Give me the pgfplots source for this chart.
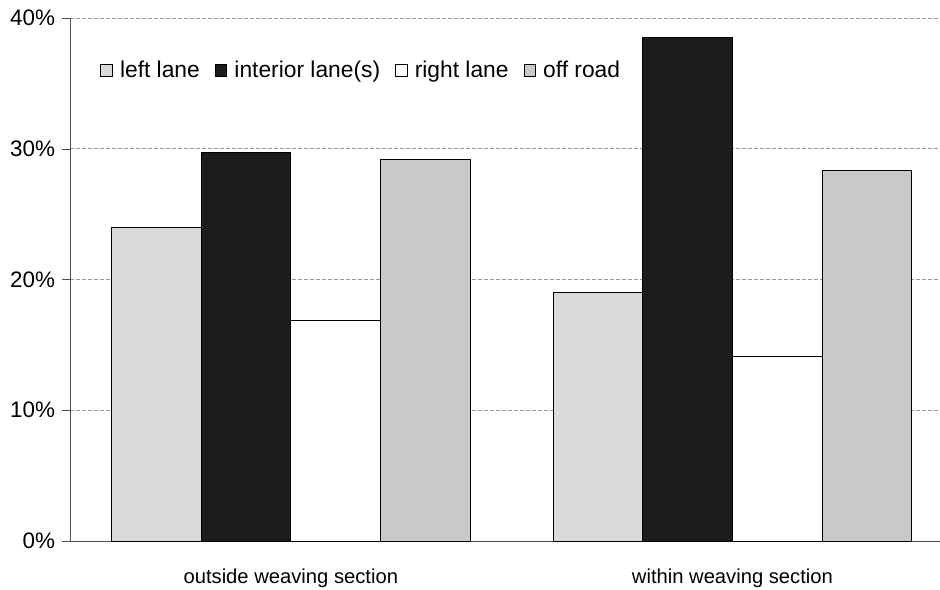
\documentclass[border=0pt]{standalone}
\usepackage{pgfplots}
\pgfplotsset{compat=1.18}
\usepackage{fontspec}
\setmainfont{Liberation Sans}

\definecolor{leftc}{HTML}{DADADA}
\definecolor{interc}{HTML}{1C1C1C}
\definecolor{offc}{HTML}{C9C9C9}

\begin{document}
\begin{tikzpicture}
\begin{axis}[
  scale only axis,
  width=435pt, height=261.5pt,
  ybar=0pt,
  bar width=0.203,
  xmin=-0.5, xmax=1.47,
  ymin=0, ymax=40,
  axis x line=bottom,
  axis y line=left,
  axis line style={-, black!70},
  tick align=outside,
  major tick length=4pt,
  xtick={0,1},
  xticklabels={outside weaving section, within weaving section},
  xtick style={draw=none},
  xticklabel style={yshift=-6.5pt, font=\fontsize{10.1}{12}\selectfont},
  extra x ticks={0.5},
  extra x tick labels={},
  extra x tick style={tick style={draw=black!70}, grid=none},
  ytick={0,10,20,30,40},
  yticklabels={0\%,10\%,20\%,30\%,40\%},
  ytick style={draw=black!70},
  yticklabel style={xshift=0pt, font=\fontsize{11.2}{13}\selectfont},
  ymajorgrids,
  grid style={black!40, dash pattern=on 2pt off 1pt, line width=0.4pt},
  legend style={
    at={(0.0345,0.90)}, anchor=west,
    draw=none, fill=none, inner sep=0pt,
    font=\fontsize{11.4}{13}\selectfont,
    legend columns=-1,
    /tikz/every even column/.append style={column sep=4pt},
    nodes={inner xsep=3.5pt},
    legend cell align=left,
  },
  legend image code/.code={\draw[#1, line width=0.5pt] (0pt,-2.9pt) rectangle (5.8pt,2.9pt);},
]
\addplot[fill=leftc, draw=black, line width=0.5pt] coordinates {(0,24.0) (1,19.0)};
\addplot[fill=interc, draw=black, line width=0.5pt] coordinates {(0,29.7) (1,38.5)};
\addplot[fill=white, draw=black, line width=0.5pt] coordinates {(0,16.9) (1,14.1)};
\addplot[fill=offc, draw=black, line width=0.5pt] coordinates {(0,29.2) (1,28.3)};
\legend{left lane, interior lane(s), right lane, off road}
\end{axis}
\pgfresetboundingbox
\path ([xshift=-35pt,yshift=-24pt]current axis.south west) rectangle ([yshift=9pt]current axis.north east);
\end{tikzpicture}
\end{document}
